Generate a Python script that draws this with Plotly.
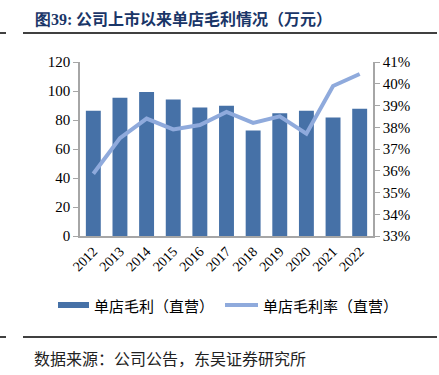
import plotly.graph_objects as go

years = ["2012", "2013", "2014", "2015", "2016", "2017", "2018", "2019", "2020", "2021", "2022"]
gross_profit = [86.4, 95.3, 99.3, 94.2, 88.7, 89.8, 72.8, 84.7, 86.4, 81.7, 87.7]
gross_margin = [35.86, 37.5, 38.4, 37.9, 38.1, 38.7, 38.2, 38.5, 37.7, 39.9, 40.45]
left_ticks = [0, 20, 40, 60, 80, 100, 120]
right_ticks = [33, 34, 35, 36, 37, 38, 39, 40, 41]
series_names = ["单店毛利（直营）", "单店毛利率（直营）"]

BAR = "#4671A7"
LINE = "#8FAADC"
AXIS = "#A6A6A6"
SERIF = "Liberation Serif, Times New Roman, serif"
CJK = "Noto Sans CJK SC, sans-serif"

L, R, T, B = 80, 373, 62, 236


def px(x):
    return (x - L) / (R - L)


def py(y):
    return (B - y) / (B - T)


fig = go.Figure()
fig.add_trace(go.Bar(x=years, y=gross_profit, marker=dict(color=BAR, line=dict(width=0)),
                     width=0.56, name=series_names[0], showlegend=False, yaxis="y"))
fig.add_trace(go.Scatter(x=years, y=gross_margin, mode="lines", line=dict(color=LINE, width=4),
                         name=series_names[1], showlegend=False, yaxis="y2"))

fig.update_layout(
    width=439, height=375,
    margin=dict(l=L, r=439 - R, t=T, b=375 - B, autoexpand=False),
    paper_bgcolor="white", plot_bgcolor="white",
    showlegend=False,
    xaxis=dict(type="category", showline=True, linecolor=AXIS, linewidth=1.5,
               ticks="", tickangle=-45, showgrid=False,
               tickfont=dict(family=SERIF, size=14, color="black")),
    yaxis=dict(range=[0, 120], tickvals=left_ticks, showline=True, linecolor=AXIS, linewidth=1.5,
               ticks="outside", ticklen=5, tickcolor=AXIS, showgrid=False, zeroline=False,
               tickfont=dict(family=SERIF, size=15, color="black")),
    yaxis2=dict(range=[33, 41], tickvals=right_ticks, ticktext=[f"{v}%" for v in right_ticks],
                overlaying="y", side="right", showline=True, linecolor=AXIS, linewidth=1.5,
                ticks="outside", ticklen=5, tickcolor=AXIS, showgrid=False, zeroline=False,
                tickfont=dict(family=SERIF, size=15, color="black")),
    font=dict(family=CJK),
)

# title and source
fig.add_annotation(xref="paper", yref="paper", x=px(33), y=py(18), xanchor="left", yanchor="middle",
                   showarrow=False,
                   text="<b><span style='font-family:Liberation Serif'>图39:</span> 公司上市以来单店毛利情况（万元）</b>",
                   font=dict(family=CJK, size=16, color="#1A3668"))
fig.add_annotation(xref="paper", yref="paper", x=px(32), y=py(358), xanchor="left", yanchor="middle",
                   showarrow=False,
                   text="数据来源：公司公告，东吴证券研究所",
                   font=dict(family=CJK, size=16, color="#222222"))

# legend (drawn manually to match the reference layout)
fig.add_shape(type="rect", xref="paper", yref="paper", x0=px(58), x1=px(89), y0=py(308), y1=py(302),
              fillcolor=BAR, line=dict(width=0))
fig.add_annotation(xref="paper", yref="paper", x=px(92), y=py(305), xanchor="left", yanchor="middle",
                   showarrow=False, text=series_names[0], font=dict(family=CJK, size=15, color="black"))
fig.add_shape(type="line", xref="paper", yref="paper", x0=px(225), x1=px(258), y0=py(305), y1=py(305),
              line=dict(color=LINE, width=4))
fig.add_annotation(xref="paper", yref="paper", x=px(261), y=py(305), xanchor="left", yanchor="middle",
                   showarrow=False, text=series_names[1], font=dict(family=CJK, size=15, color="black"))

# decorative rules under title and above source
for yy in [33, 337]:
    for x0, x1 in [(0, 6), (23, 437)]:
        fig.add_shape(type="line", xref="paper", yref="paper",
                      x0=px(x0), x1=px(x1), y0=py(yy), y1=py(yy),
                      line=dict(color="black", width=1.5))

fig.write_html("out.html", config={"displayModeBar": False},
               post_script="document.body.style.margin='0';")
